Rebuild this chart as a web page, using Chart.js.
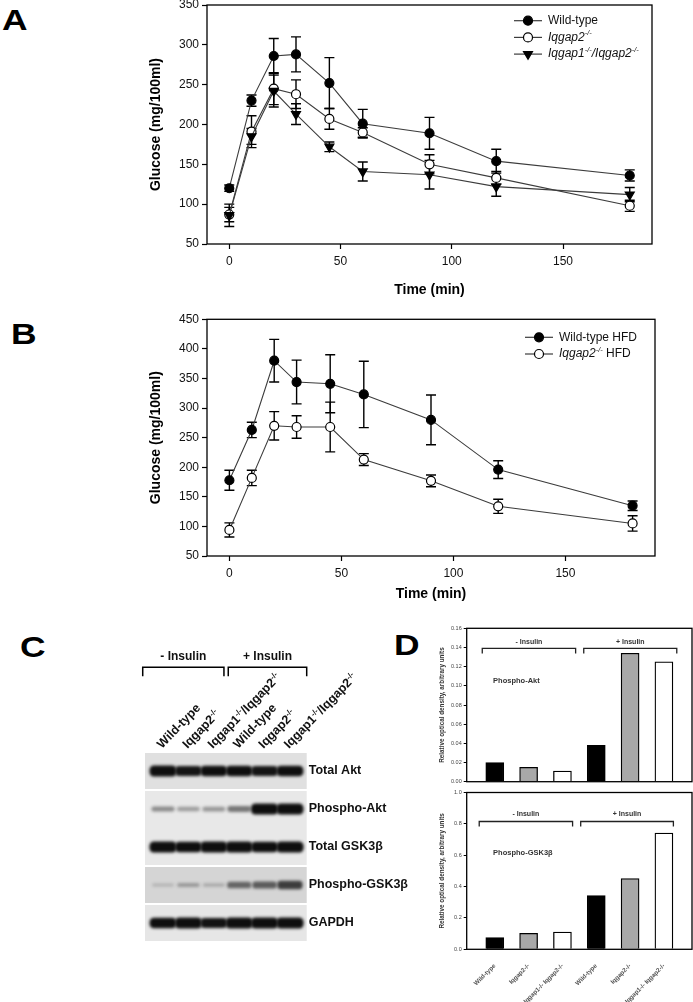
<!DOCTYPE html>
<html lang="en">
<head>
<meta charset="UTF-8">
<title>Glucose tolerance and insulin signalling</title>
<script src="https://cdn.jsdelivr.net/npm/chart.js"></script>
<style>
  body { margin: 0; background: #fff; }
  #fig { position: relative; width: 693px; height: 1002px; overflow: hidden; font-family: "Liberation Sans", Arial, sans-serif; }
  #fig canvas { position: absolute; }
  .panel { position: absolute; font-weight: bold; font-size: 30px; line-height: 1; color: #000; transform: scaleX(1.18); transform-origin: left top; }
</style>
</head>
<body>
<div id="fig">
  <div class="panel" style="left:2px;top:5px">A</div>
  <div class="panel" style="left:11px;top:319px">B</div>
  <div class="panel" style="left:20px;top:632px">C</div>
  <div class="panel" style="left:394px;top:630px">D</div>
  <canvas id="chartA" width="545" height="310" style="left:148px;top:-10px"></canvas>
  <canvas id="chartB" width="545" height="303" style="left:148px;top:300px"></canvas>
  <canvas id="blotC" width="330" height="362" style="left:100px;top:640px"></canvas>
  <canvas id="aktD" width="257" height="172" style="left:436px;top:615px"></canvas>
  <canvas id="gskD" width="257" height="215" style="left:436px;top:787px"></canvas>
</div>

<script>
// ---- data: glucose tolerance tests ----
const timeMin = [0, 10, 20, 30, 45, 60, 90, 120, 180];
const timeTicks = [0, 50, 100, 150];

const namesA = ['Wild-type', 'Iqgap2-/-', 'Iqgap1-/-/Iqgap2-/-'];
const wtA = [120, 230, 286, 288, 252, 201, 189, 154, 136];
const wtAErr = [4, 7, 22, 22, 32, 18, 20, 15, 7];
const ko2A = [87, 191, 245, 238, 207, 190, 150, 133, 98];
const ko2AErr = [9, 20, 20, 18, 13, 6, 12, 8, 7];
const dkoA = [86, 185, 242, 213, 172, 141, 137, 122, 112];
const dkoAErr = [14, 10, 20, 13, 6, 12, 18, 12, 9];

const namesB = ['Wild-type HFD', 'Iqgap2-/- HFD'];
const wtB = [178, 263, 380, 344, 341, 323, 280, 196, 135];
const wtBErr = [17, 13, 36, 37, 49, 56, 42, 15, 8];
const ko2B = [94, 182, 270, 268, 268, 213, 177, 134, 105];
const ko2BErr = [12, 13, 24, 19, 42, 10, 10, 12, 13];

// ---- data: western blot (relative band strength 0..1) ----
const laneNames = ['Wild-type', 'Iqgap2-/-', 'Iqgap1-/-/Iqgap2-/-', 'Wild-type', 'Iqgap2-/-', 'Iqgap1-/-/Iqgap2-/-'];
const blotRows = ['Total Akt', 'Phospho-Akt', 'Total GSK3β', 'Phospho-GSK3β', 'GAPDH'];
const totalAkt = [0.92, 0.85, 0.88, 0.88, 0.85, 0.9];
const phosphoAkt = [0.3, 0.22, 0.25, 0.4, 0.95, 0.95];
const totalGsk = [0.95, 0.88, 0.92, 0.95, 0.9, 0.97];
const phosphoGsk = [0.06, 0.18, 0.1, 0.45, 0.5, 0.65];
const gapdh = [0.9, 0.92, 0.86, 0.97, 0.95, 0.97];

// ---- data: densitometry ----
const densGroups = ['Wild-type', 'Iqgap2-/-', 'Iqgap1-/- Iqgap2-/-', 'Wild-type', 'Iqgap2-/-', 'Iqgap1-/- Iqgap2-/-'];
const pAktDens = [0.020, 0.015, 0.011, 0.038, 0.134, 0.125];
const pGskDens = [0.074, 0.102, 0.110, 0.342, 0.451, 0.741];

const FONT = '"Liberation Sans", Arial, sans-serif';
Chart.defaults.font.family = FONT;
Chart.defaults.color = '#111';

// text with "-/-" as superscript, gene names optionally in italics
function drawRich(ctx, x, y, label, size, weight, italicGenes) {
  let cx = x;
  label.split(/(-\/-)/).forEach(t => {
    if (!t) return;
    const sup = t === '-/-';
    const it = italicGenes && (sup || /Iqgap/.test(t));
    const fs = sup ? size * 0.62 : size;
    ctx.font = (it ? 'italic ' : '') + weight + ' ' + fs + 'px ' + FONT;
    ctx.fillText(t, cx, sup ? y - size * 0.36 : y);
    cx += ctx.measureText(t).width;
  });
  return cx - x;
}

const frame = {
  id: 'frame',
  afterDraw(chart, args, opts) {
    const { ctx, chartArea: c } = chart;
    ctx.save();
    ctx.strokeStyle = '#000';
    ctx.lineWidth = opts.width || 1.3;
    ctx.strokeRect(c.left, c.top, c.right - c.left, c.bottom - c.top);
    ctx.restore();
  }
};

const errorBars = {
  id: 'errorBars',
  beforeDatasetsDraw(chart) {
    const { ctx, scales: { x, y } } = chart;
    ctx.save();
    ctx.strokeStyle = '#000';
    ctx.lineWidth = 1.4;
    chart.data.datasets.forEach(ds => {
      ds.data.forEach((pt, i) => {
        const px = x.getPixelForValue(pt.x);
        const top = y.getPixelForValue(pt.y + ds.errors[i]);
        const bot = y.getPixelForValue(pt.y - ds.errors[i]);
        ctx.beginPath();
        ctx.moveTo(px, top); ctx.lineTo(px, bot);
        ctx.moveTo(px - 5, top); ctx.lineTo(px + 5, top);
        ctx.moveTo(px - 5, bot); ctx.lineTo(px + 5, bot);
        ctx.stroke();
      });
    });
    ctx.restore();
  }
};

const insetLegend = {
  id: 'insetLegend',
  afterDraw(chart, args, o) {
    const { ctx } = chart;
    ctx.save();
    chart.data.datasets.forEach((ds, i) => {
      const y = chart.chartArea.top + o.top + i * o.gap;
      const x = chart.chartArea.right - o.right;
      ctx.strokeStyle = ds.borderColor;
      ctx.lineWidth = 1.2;
      ctx.beginPath();
      ctx.moveTo(x, y); ctx.lineTo(x + 28, y);
      ctx.stroke();
      ctx.fillStyle = ds.pointBackgroundColor;
      ctx.strokeStyle = '#000';
      ctx.lineWidth = ds.pointBorderWidth;
      Chart.helpers.drawPoint(ctx, {
        pointStyle: ds.pointStyle, rotation: ds.pointRotation || 0,
        radius: ds.pointRadius, borderWidth: ds.pointBorderWidth
      }, x + 14, y);
      ctx.fillStyle = '#111';
      ctx.textBaseline = 'middle';
      ctx.textAlign = 'left';
      drawRich(ctx, x + 34, y, ds.label, 12, 'normal', true);
    });
    ctx.restore();
  }
};

function series(label, vals, errs, style, order) {
  return {
    label,
    order,
    data: timeMin.map((t, i) => ({ x: t, y: vals[i] })),
    errors: errs,
    borderColor: '#3c3c3c',
    borderWidth: 1.1,
    pointRadius: style === 'down' ? 5.2 : 4.5,
    pointHoverRadius: 4.5,
    pointStyle: style === 'down' ? 'triangle' : 'circle',
    pointRotation: style === 'down' ? 180 : 0,
    pointBackgroundColor: style === 'open' ? '#fff' : '#000',
    pointBorderColor: '#000',
    pointBorderWidth: 1.2,
    tension: 0
  };
}

function glucoseChart(id, datasets, yMax, padding, xHeight, legendPos) {
  return new Chart(document.getElementById(id), {
    type: 'line',
    data: { datasets },
    options: {
      responsive: false,
      animation: false,
      layout: { padding },
      plugins: { legend: { display: false }, tooltip: { enabled: false }, insetLegend: legendPos },
      scales: {
        x: {
          type: 'linear', min: -10, max: 190,
          afterBuildTicks: s => { s.ticks = timeTicks.map(v => ({ value: v })); },
          afterFit: s => { s.height = xHeight; },
          border: { display: false },
          grid: { drawOnChartArea: false, tickLength: 5, tickColor: '#000', tickWidth: 1.2 },
          ticks: { padding: 5, font: { size: 12 } },
          title: { display: true, text: 'Time (min)', padding: 0, color: '#000', font: { size: 14, weight: 'bold' } }
        },
        y: {
          min: 50, max: yMax,
          afterFit: s => { s.width = 59; },
          border: { display: false },
          grid: { drawOnChartArea: false, tickLength: 5, tickColor: '#000', tickWidth: 1.2 },
          ticks: { stepSize: 50, padding: 3, font: { size: 12 } },
          title: { display: true, text: 'Glucose (mg/100ml)', padding: 0, color: '#000', font: { size: 14, weight: 'bold' } }
        }
      }
    },
    plugins: [errorBars, frame, insetLegend]
  });
}

glucoseChart('chartA', [
  series(namesA[0], wtA, wtAErr, 'filled', 0),
  series(namesA[1], ko2A, ko2AErr, 'open', 2),
  series(namesA[2], dkoA, dkoAErr, 'down', 1)
], 350, { left: 0, top: 15, right: 41, bottom: 1.6 }, 54.4, { top: 15.7, gap: 16.7, right: 138 });

glucoseChart('chartB', [
  series(namesB[0], wtB, wtBErr, 'filled', 0),
  series(namesB[1], ko2B, ko2BErr, 'open', 1)
], 450, { left: 0, top: 19.3, right: 38, bottom: 0.6 }, 46.4, { top: 18, gap: 16.7, right: 130 });

// ---- panel C: blot drawn on lane / row scales ----
const blotPlugin = {
  id: 'blot',
  afterDraw(chart, args, o) {
    const { ctx, chartArea: c, scales: { x, y } } = chart;
    const rows = [totalAkt, phosphoAkt, totalGsk, phosphoGsk, gapdh];
    ctx.save();
    // membrane strips
    o.strips.forEach((s, k) => {
      const t = y.getPixelForValue(s[0] - 0.5) + 1;
      const b = y.getPixelForValue(s[s.length - 1] + 0.5) - 1;
      ctx.fillStyle = o.stripColors[k];
      ctx.fillRect(c.left, t, c.right - c.left, b - t);
    });
    // bands
    ctx.filter = 'blur(1.8px)';
    rows.forEach((vals, r) => {
      vals.forEach((v, lane) => {
        const px = x.getPixelForValue(lane);
        const py = y.getPixelForValue(r);
        const h = 2.5 + 9 * v, w = 21 + 6.5 * v;
        ctx.fillStyle = 'rgba(14,14,14,' + Math.min(1, 0.12 + v) + ')';
        ctx.beginPath();
        ctx.roundRect(px - w / 2, py - h / 2, w, h, h / 2.5);
        ctx.fill();
      });
    });
    ctx.filter = 'none';
    // row labels
    ctx.fillStyle = '#111';
    ctx.textBaseline = 'middle';
    ctx.textAlign = 'left';
    ctx.font = 'bold 12.5px ' + FONT;
    blotRows.forEach((name, r) => ctx.fillText(name, c.right + 2, y.getPixelForValue(r)));
    // lane labels
    ctx.textBaseline = 'alphabetic';
    laneNames.forEach((name, lane) => {
      ctx.save();
      ctx.translate(x.getPixelForValue(lane) - 1, c.top - 3);
      ctx.rotate(-46 * Math.PI / 180);
      drawRich(ctx, 0, 0, name, 12.5, 'bold', false);
      ctx.restore();
    });
    // insulin brackets
    ctx.strokeStyle = '#000';
    ctx.lineWidth = 1.5;
    ctx.textAlign = 'center';
    ctx.font = 'bold 12px ' + FONT;
    o.brackets.forEach(br => {
      const l = x.getPixelForValue(br.from), r = x.getPixelForValue(br.to);
      const yb = c.top - o.bracketUp;
      ctx.beginPath();
      ctx.moveTo(l, yb + 9); ctx.lineTo(l, yb); ctx.lineTo(r, yb); ctx.lineTo(r, yb + 9);
      ctx.stroke();
      ctx.fillText(br.text, (l + r) / 2, c.top - o.textUp + 5);
    });
    ctx.restore();
  }
};

new Chart(document.getElementById('blotC'), {
  type: 'scatter',
  data: { datasets: [] },
  options: {
    responsive: false,
    animation: false,
    layout: { padding: { left: 45, right: 123.3, top: 112, bottom: 60 } },
    plugins: {
      legend: { display: false }, tooltip: { enabled: false },
      blot: {
        strips: [[0], [1, 2], [3], [4]],
        stripColors: ['#e0e0e0', '#e8e8e8', '#d5d5d5', '#e6e6e6'],
        brackets: [{ from: -0.8, to: 2.4, text: '- Insulin' }, { from: 2.57, to: 5.66, text: '+ Insulin' }],
        bracketUp: 84.7, textUp: 97
      }
    },
    scales: {
      x: { type: 'linear', display: false, min: -0.71, max: 5.66 },
      y: { type: 'linear', display: false, min: -0.5, max: 4.5, reverse: true }
    }
  },
  plugins: [blotPlugin]
});

// ---- panel D: densitometry bars ----
const densNotes = {
  id: 'densNotes',
  afterDraw(chart, args, o) {
    const { ctx, scales: { x, y } } = chart;
    ctx.save();
    ctx.strokeStyle = '#222';
    ctx.fillStyle = '#333';
    ctx.lineWidth = 1.3;
    ctx.font = 'bold 7px ' + FONT;
    ctx.textAlign = 'center';
    ctx.textBaseline = 'middle';
    const yb = y.getPixelForValue(o.bracketY);
    o.brackets.forEach(br => {
      const l = x.getPixelForValue(br.from), r = x.getPixelForValue(br.to);
      ctx.beginPath();
      ctx.moveTo(l, yb + 5); ctx.lineTo(l, yb); ctx.lineTo(r, yb); ctx.lineTo(r, yb + 5);
      ctx.stroke();
      ctx.fillText(br.text, (l + r) / 2, y.getPixelForValue(o.textY));
    });
    ctx.textAlign = 'left';
    ctx.font = 'bold 7.5px ' + FONT;
    ctx.fillText(o.label, x.getPixelForValue(-0.05), y.getPixelForValue(o.labelY));
    ctx.restore();
  }
};

const densFill = ['#000', '#a8a8a8', '#fff', '#000', '#a8a8a8', '#fff'];

function densChart(id, vals, yMax, step, digits, padding, showX, notes) {
  return new Chart(document.getElementById(id), {
    type: 'bar',
    data: {
      datasets: [{
        data: vals.map((v, i) => ({ x: i, y: v })),
        backgroundColor: densFill,
        borderColor: '#000',
        borderWidth: 1.3,
        borderSkipped: 'bottom',
        barThickness: 18
      }]
    },
    options: {
      responsive: false,
      animation: false,
      layout: { padding },
      plugins: { legend: { display: false }, tooltip: { enabled: false }, densNotes: notes },
      scales: {
        x: {
          type: 'linear', min: -0.83, max: 5.83, offset: false, display: showX,
          afterBuildTicks: s => { s.ticks = densGroups.map((g, i) => ({ value: i })); },
          afterFit: s => { if (showX) s.height = 52.7; },
          border: { display: false },
          grid: { display: false },
          ticks: {
            autoSkip: false, minRotation: 45, maxRotation: 45, padding: 5,
            color: '#555', font: { size: 6.2, weight: 'bold' },
            callback: v => densGroups[v]
          }
        },
        y: {
          min: 0, max: yMax,
          afterFit: s => { s.width = 28.7; },
          border: { display: false },
          grid: { drawOnChartArea: false, tickLength: 3, tickColor: '#000', tickWidth: 1 },
          ticks: { stepSize: step, padding: 2, color: '#444', font: { size: 5.5 }, callback: v => v.toFixed(digits) },
          title: { display: true, text: 'Relative optical density, arbitrary units', padding: 0, color: '#333', font: { size: 6.3, weight: 'bold' } }
        }
      }
    },
    plugins: [frame, densNotes]
  });
}

densChart('aktD', pAktDens, 0.16, 0.02, 2, { left: 2, top: 13.3, right: 1, bottom: 3.3 }, false, {
  bracketY: 0.139, textY: 0.146, labelY: 0.105, label: 'Phospho-Akt',
  brackets: [{ from: -0.37, to: 2.39, text: '- Insulin' }, { from: 2.63, to: 5.38, text: '+ Insulin' }]
});

densChart('gskD', pGskDens, 1.0, 0.2, 1, { left: 2, top: 5.5, right: 1, bottom: 0 }, true, {
  bracketY: 0.815, textY: 0.865, labelY: 0.617, label: 'Phospho-GSK3β',
  brackets: [{ from: -0.46, to: 2.3, text: '- Insulin' }, { from: 2.54, to: 5.28, text: '+ Insulin' }]
});
</script>
</body>
</html>
